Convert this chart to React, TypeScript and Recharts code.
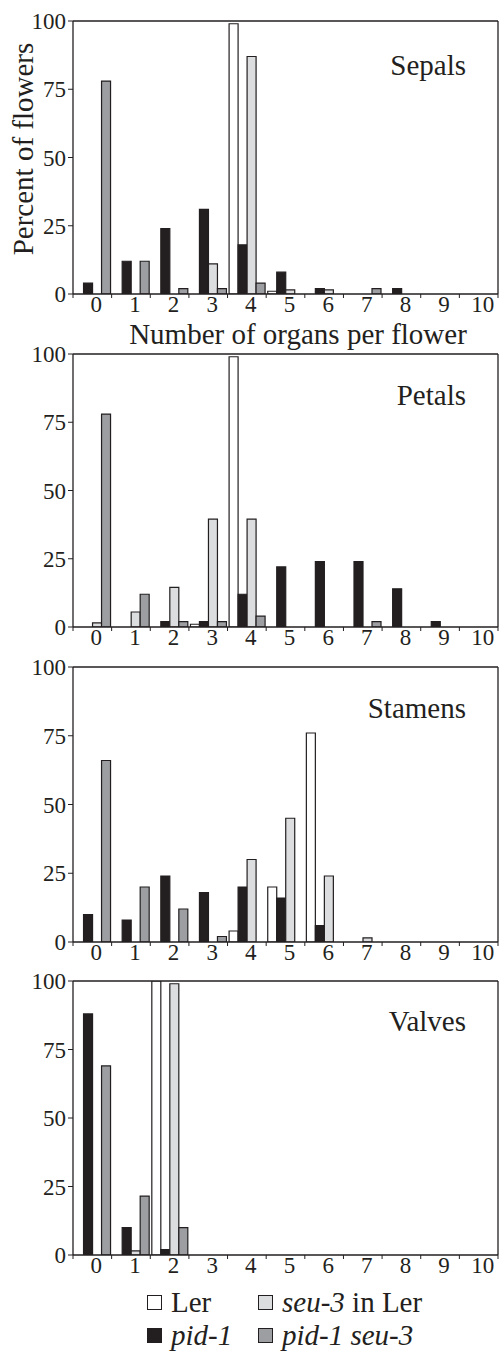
import React from 'react'
import { BarChart, Bar, XAxis, YAxis, ReferenceLine } from 'recharts'

const organCounts = ['0', '1', '2', '3', '4', '5', '6', '7', '8', '9', '10']
const percentTicks = [0, 25, 50, 75, 100]

const sepalsLer = [0, 0, 0, 0, 99, 1, 0, 0, 0, 0, 0]
const sepalsPid = [4, 12, 24, 31, 18, 8, 2, 0, 2, 0, 0]
const sepalsSeu = [0, 0, 0, 11, 87, 1.5, 1.5, 0, 0, 0, 0]
const sepalsPidSeu = [78, 12, 2, 2, 4, 0, 0, 2, 0, 0, 0]

const petalsLer = [0, 0, 0, 1, 99, 0, 0, 0, 0, 0, 0]
const petalsPid = [0, 0, 2, 2, 12, 22, 24, 24, 14, 2, 0]
const petalsSeu = [1.5, 5.5, 14.5, 39.5, 39.5, 0, 0, 0, 0, 0, 0]
const petalsPidSeu = [78, 12, 2, 2, 4, 0, 0, 2, 0, 0, 0]

const stamensLer = [0, 0, 0, 0, 4, 20, 76, 0, 0, 0, 0]
const stamensPid = [10, 8, 24, 18, 20, 16, 6, 0, 0, 0, 0]
const stamensSeu = [0, 0, 0, 0, 30, 45, 24, 1.5, 0, 0, 0]
const stamensPidSeu = [66, 20, 12, 2, 0, 0, 0, 0, 0, 0, 0]

const valvesLer = [0, 0, 100, 0, 0, 0, 0, 0, 0, 0, 0]
const valvesPid = [88, 10, 2, 0, 0, 0, 0, 0, 0, 0, 0]
const valvesSeu = [0, 1.5, 99, 0, 0, 0, 0, 0, 0, 0, 0]
const valvesPidSeu = [69, 21.5, 10, 0, 0, 0, 0, 0, 0, 0, 0]

const INK = '#231f20'
const FONT = "'Liberation Serif', 'Times New Roman', Times, serif"

const series = [
  { key: 'ler', name: 'Ler', fill: '#ffffff' },
  { key: 'pid', name: 'pid-1', fill: INK },
  { key: 'seu', name: 'seu-3 in Ler', fill: '#dcdddf' },
  { key: 'pidSeu', name: 'pid-1 seu-3', fill: '#9c9ea1' },
]

const buildRows = (ler: number[], pid: number[], seu: number[], pidSeu: number[]) =>
  organCounts.map((n, i) => ({ n, ler: ler[i], pid: pid[i], seu: seu[i], pidSeu: pidSeu[i] }))

const panels = [
  { title: 'Sepals', top: 0, plotH: 273, titleTop: 51, rows: buildRows(sepalsLer, sepalsPid, sepalsSeu, sepalsPidSeu) },
  { title: 'Petals', top: 333, plotH: 273, titleTop: 48, rows: buildRows(petalsLer, petalsPid, petalsSeu, petalsPidSeu) },
  { title: 'Stamens', top: 646, plotH: 275, titleTop: 48, rows: buildRows(stamensLer, stamensPid, stamensSeu, stamensPidSeu) },
  { title: 'Valves', top: 960, plotH: 274, titleTop: 47, rows: buildRows(valvesLer, valvesPid, valvesSeu, valvesPidSeu) },
]

const W = 500
const LEFT = 73
const RIGHT = 2
const BAND = (W - LEFT - RIGHT) / organCounts.length

// tick mark at the left edge of each band, label at the centre
function CountTick(props: any) {
  const { x, y, payload, index } = props
  const left = x - BAND / 2
  return (
    <g>
      <line x1={left} y1={y} x2={left} y2={y + 4} stroke={INK} strokeWidth={1} />
      {index === organCounts.length - 1 && (
        <line x1={x + BAND / 2} y1={y} x2={x + BAND / 2} y2={y + 4} stroke={INK} strokeWidth={1} />
      )}
      <text x={x + 4} y={y + 2} dy="0.71em" textAnchor="middle" fontSize={23} fontFamily={FONT} fill={INK}>
        {payload.value}
      </text>
    </g>
  )
}

function Panel({ title, top, plotH, titleTop, rows }: any) {
  const h = 21 + plotH + 26
  return (
    <div style={{ position: 'absolute', left: 0, top, width: W, height: h }}>
      <BarChart
        width={W}
        height={h}
        data={rows}
        margin={{ top: 21, right: 0, left: 0, bottom: 0 }}
        barCategoryGap="4%"
        barGap={0}
      >
        <XAxis
          dataKey="n"
          interval={0}
          height={26}
          tickSize={0}
          tickMargin={0}
          tickLine={false}
          axisLine={{ stroke: INK, strokeWidth: 1.3 }}
          tick={<CountTick />}
        />
        <YAxis
          width={LEFT}
          domain={[0, 100]}
          ticks={percentTicks}
          allowDataOverflow
          tickSize={5}
          tickMargin={2}
          axisLine={{ stroke: INK, strokeWidth: 1.3 }}
          tickLine={{ stroke: INK }}
          tick={{ fontSize: 23, fontFamily: FONT, fill: INK }}
        />
        <YAxis
          yAxisId="frame"
          orientation="right"
          width={RIGHT}
          domain={[0, 100]}
          tick={false}
          tickLine={false}
          axisLine={{ stroke: INK, strokeWidth: 1.3 }}
        />
        <ReferenceLine y={100} stroke={INK} strokeWidth={1.3} />
        {series.map((s) => (
          <Bar
            key={s.key}
            dataKey={s.key}
            fill={s.fill}
            stroke={INK}
            strokeWidth={1.2}
            isAnimationActive={false}
          />
        ))}
      </BarChart>
      <div
        style={{
          position: 'absolute',
          right: 34,
          top: titleTop,
          fontFamily: FONT,
          fontSize: 29,
          color: INK,
          lineHeight: '29px',
        }}
      >
        {title}
      </div>
    </div>
  )
}

function LegendItem({ s }: any) {
  let label: React.ReactNode = s.name
  if (s.key === 'seu') label = (<><i>seu-3</i> in Ler</>)
  else if (s.key !== 'ler') label = <i>{s.name}</i>
  return (
    <div style={{ display: 'flex', alignItems: 'center', height: 22, lineHeight: '22px' }}>
      <span
        style={{
          display: 'inline-block',
          width: 13,
          height: 13,
          background: s.fill,
          border: `1.5px solid ${INK}`,
          marginRight: 9,
        }}
      />
      <span>{label}</span>
    </div>
  )
}

export default function App() {
  const legendRows = [
    [series[0], series[2]],
    [series[1], series[3]],
  ]
  return (
    <div style={{ position: 'absolute', left: 0, top: 0, width: W, height: 1351, background: '#fff', fontFamily: FONT, color: INK }}>
      {panels.map((p) => (
        <Panel key={p.title} {...p} />
      ))}
      <div
        style={{
          position: 'absolute',
          left: 23,
          top: 149,
          transform: 'translate(-50%, -50%) rotate(-90deg)',
          fontSize: 29,
          lineHeight: '29px',
          whiteSpace: 'nowrap',
        }}
      >
        Percent of flowers
      </div>
      <div
        style={{
          position: 'absolute',
          left: 298,
          top: 334,
          transform: 'translate(-50%, -50%)',
          fontSize: 29,
          lineHeight: '20px',
          whiteSpace: 'nowrap',
        }}
      >
        Number of organs per flower
      </div>
      {legendRows.map((row, r) => (
        <div key={r} style={{ position: 'absolute', left: 147, top: 1291 + r * 33, fontSize: 29, display: 'flex' }}>
          <div style={{ width: 111 }}>
            <LegendItem s={row[0]} />
          </div>
          <LegendItem s={row[1]} />
        </div>
      ))}
    </div>
  )
}
